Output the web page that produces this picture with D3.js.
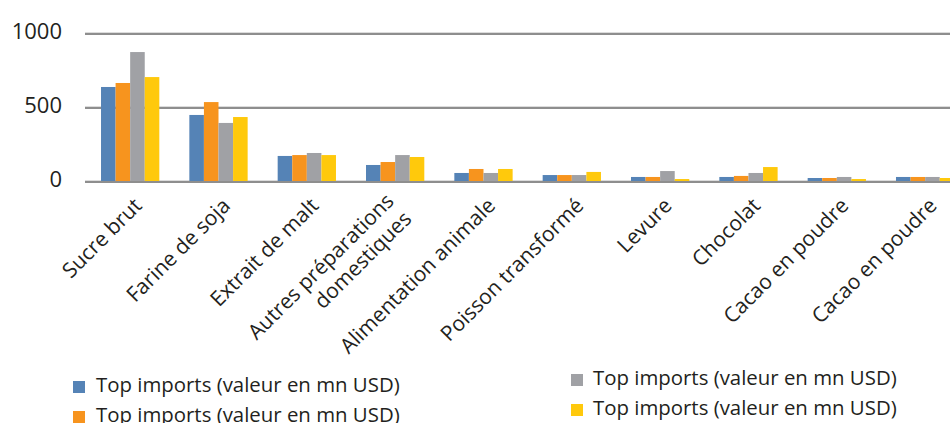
<!DOCTYPE html>
<html>
<head>
<meta charset="utf-8">
<script src="https://cdn.jsdelivr.net/npm/d3@7"></script>
<style>
  html, body { margin: 0; padding: 0; background: #fff; }
  svg { display: block; font-family: "Open Sans", sans-serif; }
</style>
</head>
<body>
<svg id="chart" width="950" height="423"></svg>
<script>
const categories = [
  "Sucre brut", "Farine de soja", "Extrait de malt",
  "Autres préparations\ndomestiques", "Alimentation animale",
  "Poisson transformé", "Levure", "Chocolat",
  "Cacao en poudre", "Cacao en poudre"
];
const seriesNames = [
  "Top imports (valeur en mn USD)", "Top imports (valeur en mn USD)",
  "Top imports (valeur en mn USD)", "Top imports (valeur en mn USD)"
];
const series1 = [642, 453, 176, 115, 61, 47, 34, 34, 27, 34];
const series2 = [669, 540, 182, 135, 88, 47, 34, 41, 27, 34];
const series3 = [878, 399, 196, 182, 61, 47, 74, 61, 34, 34];
const series4 = [709, 439, 182, 169, 88, 68, 20, 101, 20, 27];
const yTicks = [0, 500, 1000];
const colors = ["#5583b6", "#f7941e", "#a0a1a5", "#ffc90c"];

const allSeries = [series1, series2, series3, series4];
const svg = d3.select("#chart");
const textColor = "#231f20";

const x0 = d3.scaleBand().domain(d3.range(categories.length))
  .range([86, 969.3]).paddingInner(0.34).paddingOuter(0.17);
const x1 = d3.scaleBand().domain(d3.range(allSeries.length))
  .range([0, x0.bandwidth()]);
const y = d3.scaleLinear().domain([0, 1000]).range([182, 34]);

// gridlines
const grid = svg.append("g");
yTicks.forEach(t => {
  grid.append("line").attr("x1", 85).attr("x2", 950)
    .attr("y1", y(t) - 1.5).attr("y2", y(t) - 1.5)
    .attr("stroke", "#dcdcdc").attr("stroke-width", 1);
  grid.append("line").attr("x1", 85).attr("x2", 950)
    .attr("y1", y(t)).attr("y2", y(t))
    .attr("stroke", "#8e8e8e").attr("stroke-width", 2);
});

// y tick labels
svg.append("g").selectAll("text").data(yTicks).join("text")
  .attr("x", 62).attr("y", d => y(d) + 5)
  .attr("text-anchor", "end")
  .attr("font-size", 22).attr("fill", textColor)
  .text(d => d);

// bars
const groups = svg.append("g").selectAll("g").data(categories).join("g")
  .attr("transform", (d, i) => `translate(${x0(i)},0)`);
groups.selectAll("rect")
  .data((d, i) => allSeries.map((s, k) => ({ k, v: s[i] })))
  .join("rect")
  .attr("x", d => x1(d.k))
  .attr("width", x1.bandwidth())
  .attr("y", d => y(d.v))
  .attr("height", d => y(0) - y(d.v) - 1)
  .attr("fill", d => colors[d.k]);

// category labels
const lab = svg.append("g").selectAll("g").data(categories).join("g")
  .attr("transform", (d, i) => `translate(${x0(i) + x0.bandwidth() / 2 + 13},207) rotate(-45)`);
lab.each(function(d) {
  const lines = d.split("\n");
  const n = lines.length;
  const L = 25;
  const t = d3.select(this).append("text")
    .attr("text-anchor", "end").attr("font-size", 21).attr("fill", textColor);
  lines.forEach((ln, j) => {
    t.append("tspan")
      .attr("x", n > 1 ? -6 : 0)
      .attr("y", (j - (n - 1) / 2) * L)
      .text(ln);
  });
});

// legend
const legendPos = [
  { sx: 73, sy: 381, tx: 96, ty: 392 },
  { sx: 73, sy: 411, tx: 96, ty: 422 },
  { sx: 571, sy: 374, tx: 593, ty: 385 },
  { sx: 571, sy: 404, tx: 593, ty: 415 }
];
const leg = svg.append("g").selectAll("g").data(seriesNames).join("g");
leg.append("rect")
  .attr("x", (d, i) => legendPos[i].sx).attr("y", (d, i) => legendPos[i].sy)
  .attr("width", 12).attr("height", 12)
  .attr("fill", (d, i) => colors[i]);
leg.append("text")
  .attr("x", (d, i) => legendPos[i].tx).attr("y", (d, i) => legendPos[i].ty)
  .attr("font-size", 20.4).attr("fill", textColor)
  .text(d => d);
</script>
</body>
</html>
